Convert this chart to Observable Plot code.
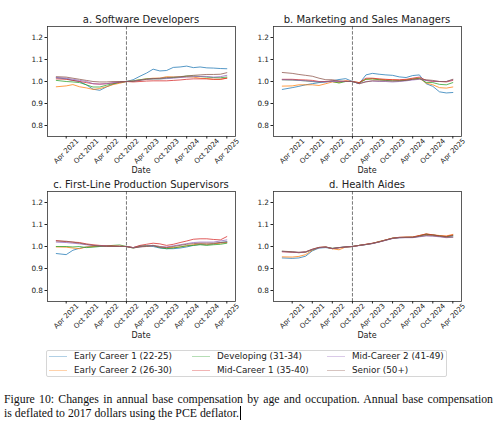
<!DOCTYPE html>
<html><head><meta charset="utf-8">
<script src="https://cdn.jsdelivr.net/npm/d3@7"></script>
<script src="https://cdn.jsdelivr.net/npm/@observablehq/plot@0.6"></script>
<style>
body{margin:0;background:#fff;width:500px;height:423px;overflow:hidden;position:relative;font-family:"DejaVu Sans",sans-serif;}
.panel{position:absolute;}
.panel svg{overflow:visible;display:block;background:transparent !important;}
.ttl{position:absolute;width:300px;text-align:center;font-size:10px;line-height:12px;color:#222;white-space:nowrap;}
.dlab{position:absolute;width:100px;text-align:center;font-size:8px;line-height:10px;color:#222;}
#legend{position:absolute;left:46px;top:350px;width:401px;height:27px;border:1px solid #d6d6d6;border-radius:2px;box-sizing:border-box;}
.lg{position:absolute;font-size:8.8px;line-height:10px;white-space:nowrap;color:#222;}
.ls{position:absolute;height:0;border-top:1.3px solid;}
#caption{position:absolute;left:4px;top:393px;width:489px;font-family:"Liberation Serif",serif;font-size:11.8px;line-height:12.6px;color:#111;}
#l1{text-align:justify;text-align-last:justify;}
.cur{display:inline-block;width:0;height:14px;border-left:1px solid #000;vertical-align:-3px;margin-left:1px;}
</style></head><body>
<script>
const dates = ["2021-01-01","2021-04-01","2021-06-01","2021-08-01","2021-10-01","2021-12-01","2022-02-01","2022-04-01","2022-06-01","2022-08-01","2022-10-01","2022-12-01","2023-02-01","2023-04-01","2023-06-01","2023-08-01","2023-10-01","2023-12-01","2024-02-01","2024-04-01","2024-06-01","2024-08-01","2024-10-01","2024-12-01","2025-02-01","2025-04-01"];
const seriesNames = ["Early Career 1 (22-25)","Early Career 2 (26-30)","Developing (31-34)","Mid-Career 1 (35-40)","Mid-Career 2 (41-49)","Senior (50+)"];
const seriesColors = ["#1f77b4","#ff7f0e","#2ca02c","#d62728","#9467bd","#8c564b"];
const panelTitles = ["a. Software Developers","b. Marketing and Sales Managers","c. First-Line Production Supervisors","d. Health Aides"];
const xTickLabels = ["Apr 2021","Oct 2021","Apr 2022","Oct 2022","Apr 2023","Oct 2023","Apr 2024","Oct 2024","Apr 2025"];
const yTicks = [0.8,0.9,1.0,1.1,1.2];
const baseDate = "2022-10-01";
const xAxisLabel = "Date";
const captionLine1 = "Figure 10: Changes in annual base compensation by age and occupation.  Annual base compensation";
const captionLine2 = "is deflated to 2017 dollars using the PCE deflator.";

const softwareDevelopers = [
 [1.017,1.012,1.005,1.0,0.985,0.965,0.96,0.975,0.988,0.997,1.0,1.008,1.024,1.038,1.056,1.048,1.05,1.064,1.066,1.07,1.063,1.066,1.062,1.061,1.059,1.058],
 [0.976,0.98,0.986,0.976,0.971,0.964,0.968,0.976,0.986,0.992,1.0,1.003,1.008,1.012,1.015,1.015,1.022,1.02,1.02,1.022,1.02,1.015,1.013,1.01,1.01,1.015],
 [1.005,1.0,0.998,0.995,0.985,0.975,0.975,0.983,0.99,0.996,1.0,1.003,1.008,1.012,1.012,1.012,1.015,1.018,1.02,1.025,1.025,1.023,1.02,1.018,1.017,1.02],
 [1.012,1.01,1.005,1.0,0.995,0.99,0.988,0.99,0.993,0.997,1.0,0.998,1.0,1.002,1.003,1.003,1.003,1.005,1.007,1.01,1.012,1.012,1.012,1.01,1.01,1.015],
 [1.018,1.015,1.01,1.005,1.0,0.99,0.988,0.99,0.995,0.998,1.0,1.002,1.006,1.01,1.012,1.012,1.013,1.015,1.018,1.02,1.022,1.023,1.023,1.02,1.022,1.028],
 [1.022,1.02,1.015,1.01,1.005,1.0,0.998,0.998,1.0,1.0,1.0,1.0,1.005,1.01,1.013,1.015,1.018,1.02,1.022,1.025,1.028,1.03,1.032,1.032,1.033,1.04]
];
const marketingSalesManagers = [
 [0.964,0.972,0.978,0.985,0.99,0.995,0.998,1.003,1.009,1.013,1.0,0.99,1.03,1.037,1.033,1.03,1.028,1.021,1.018,1.027,1.03,0.99,0.978,0.953,0.948,0.95],
 [0.979,0.98,0.985,0.985,0.985,0.982,0.99,0.998,0.995,1.003,1.0,0.995,1.01,1.012,1.01,1.008,1.008,1.005,1.008,1.012,1.015,0.993,0.985,0.972,0.97,0.975],
 [1.008,1.007,1.005,1.003,1.0,0.998,1.0,1.0,0.993,1.0,1.0,0.993,1.01,1.012,1.008,1.005,1.003,1.003,1.005,1.01,1.015,0.996,0.995,0.987,0.985,0.995],
 [1.01,1.01,1.008,1.007,1.005,1.0,1.0,1.003,1.0,1.002,1.0,0.995,1.015,1.015,1.012,1.01,1.008,1.008,1.01,1.015,1.02,1.005,1.0,1.0,0.998,1.005],
 [1.008,1.007,1.005,1.003,1.0,0.998,0.998,1.0,1.0,1.0,1.0,0.99,1.0,1.002,1.0,1.0,0.998,1.0,1.003,1.007,1.01,1.005,1.002,1.0,1.0,1.008],
 [1.041,1.037,1.032,1.028,1.024,1.015,1.008,1.008,1.003,1.0,1.0,0.99,0.998,1.003,1.003,1.003,1.002,1.003,1.005,1.01,1.012,1.008,1.005,1.0,1.0,1.01]
];
const productionSupervisors = [
 [0.968,0.963,0.983,0.992,0.998,1.0,1.0,1.002,1.0,1.0,1.0,0.995,1.003,1.003,1.0,0.993,0.99,0.99,0.993,0.998,1.005,1.01,1.008,1.012,1.018,1.022],
 [0.998,0.997,0.993,0.99,0.998,1.0,1.002,1.003,1.0,1.0,1.0,0.995,1.0,1.003,1.005,1.0,0.995,0.995,0.998,1.003,1.008,1.012,1.01,1.012,1.015,1.018],
 [1.0,1.0,0.998,1.0,0.995,0.997,1.0,1.003,1.005,1.007,1.0,0.993,1.0,1.003,1.005,0.995,0.99,0.993,0.998,1.003,1.005,1.008,1.005,1.008,1.01,1.015],
 [1.027,1.022,1.02,1.018,1.012,1.008,1.005,1.003,1.003,1.002,1.0,0.995,1.005,1.01,1.015,1.012,1.005,1.01,1.018,1.025,1.033,1.035,1.035,1.032,1.03,1.045],
 [1.02,1.018,1.015,1.012,1.008,1.005,1.003,1.002,1.0,1.0,1.0,0.995,0.998,1.003,1.005,1.0,0.998,1.003,1.008,1.013,1.018,1.02,1.02,1.02,1.025,1.03],
 [1.025,1.024,1.02,1.015,1.01,1.005,1.003,1.0,1.0,1.0,1.0,0.993,0.998,1.0,1.003,0.997,0.995,1.0,1.005,1.01,1.013,1.015,1.015,1.015,1.018,1.02]
];
const healthAides = [
 [0.948,0.946,0.948,0.956,0.98,0.993,0.995,0.99,0.995,0.998,1.0,1.005,1.009,1.014,1.022,1.03,1.037,1.04,1.041,1.042,1.047,1.055,1.053,1.048,1.045,1.048],
 [0.953,0.952,0.955,0.963,0.983,0.995,0.997,0.99,0.985,0.998,1.0,1.005,1.01,1.014,1.023,1.03,1.038,1.041,1.042,1.043,1.05,1.057,1.053,1.05,1.048,1.055],
 [0.978,0.975,0.972,0.974,0.985,0.995,0.997,0.992,0.995,0.998,1.0,1.005,1.009,1.014,1.021,1.029,1.038,1.041,1.042,1.042,1.048,1.056,1.052,1.048,1.044,1.05],
 [0.976,0.974,0.972,0.975,0.987,0.996,0.998,0.99,0.994,0.998,1.0,1.005,1.01,1.015,1.021,1.03,1.038,1.042,1.043,1.043,1.05,1.057,1.053,1.048,1.046,1.052],
 [0.977,0.975,0.973,0.975,0.986,0.994,0.997,0.991,0.995,0.998,1.0,1.004,1.009,1.013,1.02,1.028,1.036,1.04,1.04,1.04,1.044,1.048,1.047,1.044,1.04,1.042],
 [0.979,0.976,0.974,0.976,0.988,0.996,0.998,0.991,0.995,0.998,1.0,1.005,1.009,1.014,1.021,1.029,1.037,1.04,1.041,1.041,1.046,1.05,1.049,1.046,1.042,1.043]
];

const parseTick = d3.utcParse("%b %Y");
const xTickDates = xTickLabels.map(parseTick);
const tickFmt = d3.utcFormat("%b %Y");

function makePanel(title, values, left, top, mt, mb) {
  const rows = [];
  values.forEach((vals, si) => vals.forEach((v, i) => rows.push({date: new Date(dates[i]), value: v, series: seriesNames[si]})));
  const W = 250, H = 175, ml = 47, mr = 15;
  const chart = Plot.plot({
    width: W, height: H,
    marginLeft: ml, marginRight: mr, marginTop: mt, marginBottom: mb,
    style: {fontFamily: "DejaVu Sans", fontSize: "7.3px", background: "transparent", color: "#222"},
    x: {type: "utc", domain: [new Date("2020-10-13"), new Date("2025-06-19")]},
    y: {domain: [0.75, 1.25]},
    color: {domain: seriesNames, range: seriesColors},
    marks: [
      Plot.lineY(rows, {x: "date", y: "value", stroke: "series", strokeWidth: 0.9, strokeOpacity: 0.85}),
      Plot.ruleX([new Date(baseDate)], {stroke: "#555", strokeWidth: 0.8, strokeDasharray: "3.5,1.6"}),
      Plot.frame({stroke: "#333", strokeWidth: 0.8}),
      Plot.axisY({ticks: yTicks, tickFormat: d3.format(".1f"), tickSize: 2.5, tickPadding: 2, fontSize: 7.3, label: null}),
      Plot.axisX({ticks: xTickDates, tickSize: 2.5, tickFormat: () => "", label: null}),
      Plot.text(xTickDates, {x: d => d, text: d => tickFmt(d), frameAnchor: "bottom", lineAnchor: "middle", dy: 14.5, rotate: -45, fontSize: 7, fill: "#222"})
    ]
  });
  const div = document.createElement("div");
  div.className = "panel";
  div.style.left = left + "px";
  div.style.top = top + "px";
  div.appendChild(chart);
  document.body.appendChild(div);
  const cx = left + (ml + (W - mr)) / 2;
  const t = document.createElement("div");
  t.className = "ttl";
  t.style.left = (cx - 150) + "px";
  t.style.top = (top + mt - 6 - 6) + "px";
  t.textContent = title;
  document.body.appendChild(t);
  const d = document.createElement("div");
  d.className = "dlab";
  d.style.left = (cx - 50) + "px";
  d.style.top = (top + H - mb + 35 - 5) + "px";
  d.textContent = xAxisLabel;
  document.body.appendChild(d);
}

makePanel(panelTitles[0], softwareDevelopers, 0, 0, 26, 39);
makePanel(panelTitles[1], marketingSalesManagers, 226, 0, 26, 39);
makePanel(panelTitles[2], productionSupervisors, 0, 170, 21, 44);
makePanel(panelTitles[3], healthAides, 226, 170, 21, 44);

// legend
const legend = document.createElement("div");
legend.id = "legend";
document.body.appendChild(legend);
const colX = [[49, 74], [192, 217], [327, 352]];
const rowY = [356, 370];
seriesNames.forEach((name, i) => {
  const c = Math.floor(i / 2), r = i % 2;
  const s = document.createElement("div");
  s.className = "ls";
  s.style.left = colX[c][0] + "px";
  s.style.width = "18px";
  s.style.top = (rowY[r] - 0.5) + "px";
  const col = d3.color(seriesColors[i]); col.opacity = 0.35;
  s.style.borderTopColor = col.formatRgb();
  document.body.appendChild(s);
  const t = document.createElement("div");
  t.className = "lg";
  t.style.left = colX[c][1] + "px";
  t.style.top = (rowY[r] - 5) + "px";
  t.textContent = name;
  document.body.appendChild(t);
});

// caption
const cap = document.createElement("div");
cap.id = "caption";
const l1 = document.createElement("div"); l1.id = "l1"; l1.textContent = captionLine1;
const l2 = document.createElement("div"); l2.textContent = captionLine2;
const cur = document.createElement("span"); cur.className = "cur"; l2.appendChild(cur);
cap.appendChild(l1); cap.appendChild(l2);
document.body.appendChild(cap);
</script>
</body></html>
